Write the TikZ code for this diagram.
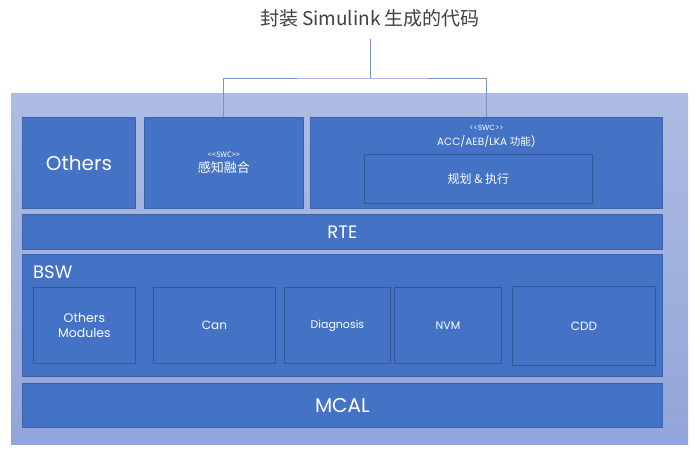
\documentclass[tikz,border=0pt]{standalone}
\usepackage{fontspec}
\setmainfont{Poppins}
\newfontfamily\cjk{Noto Sans CJK SC}
\definecolor{bgtop}{HTML}{AEBCE3}
\definecolor{bgbot}{HTML}{92A5D8}
\definecolor{boxblue}{HTML}{4472C4}
\definecolor{boxline}{HTML}{3A63AD}
\definecolor{subline}{HTML}{33589A}
\definecolor{linkcol}{HTML}{7C93C9}
\definecolor{titlecol}{HTML}{404040}
\tikzset{
	blk/.style={draw=boxline,fill=boxblue,text=white,inner sep=0pt,anchor=north west,line width=0.8pt,align=center},
	sub/.style={blk,draw=subline},
	link/.style={draw=linkcol,line width=1pt},
	lbl/.style={text=white,inner sep=0pt,align=center}
}
\begin{document}
\begin{tikzpicture}[x=1pt,y=-1pt]
				\useasboundingbox (0,0) rectangle (695,451);
				\fill[top color=bgtop,bottom color=bgbot] (11,93) rectangle (688,444);
				\node[text=titlecol,font=\cjk\fontsize{19}{23}\selectfont] (title) at (370,18) {封装 Simulink 生成的代码};
				\node[blk,minimum width=113pt,minimum height=91pt,font=\fontsize{20}{24}\selectfont] (oth) at (22,117) {Others};
				\node[blk,minimum width=159pt,minimum height=91pt,font=\cjk\fontsize{13}{15}\selectfont] (perc) at (144,117) {{\fontsize{7.5}{9}\selectfont {<}{<}SWC{>}{>}}\\感知融合};
				\node[blk,minimum width=352pt,minimum height=91pt] (func) at (310,117) {};
				\node[lbl,anchor=north,font=\fontsize{10.5}{15}\selectfont] (funclbl) at ([yshift=-8pt]func.north) {{\fontsize{7.5}{9}\selectfont {<}{<}SWC{>}{>}}\\ACC/AEB/LKA {\cjk 功能})};
				\node[sub,minimum width=228pt,minimum height=49pt,font=\cjk\fontsize{12}{14}\selectfont] (plan) at (364,154) {规划 \& 执行};
				\node[blk,minimum width=640pt,minimum height=35pt,font=\fontsize{18}{22}\selectfont] (rte) at (22,214) {RTE};
				\node[blk,minimum width=640pt,minimum height=122pt] (bsw) at (22,254) {};
				\node[lbl,anchor=west,font=\fontsize{18}{22}\selectfont] (bswlbl) at (33,272) {BSW};
				\node[sub,minimum width=102pt,minimum height=76pt,font=\fontsize{12.5}{15}\selectfont] (om) at (33,287) {Others\\Modules};
				\node[sub,minimum width=122pt,minimum height=76pt,font=\fontsize{12}{14}\selectfont] (can) at (153,287) {Can};
				\node[sub,minimum width=106pt,minimum height=76pt,font=\fontsize{11}{14}\selectfont] (diag) at (284,287) {Diagnosis};
				\node[sub,minimum width=107pt,minimum height=76pt,font=\fontsize{11}{14}\selectfont] (nvm) at (394,287) {NVM};
				\node[sub,minimum width=143pt,minimum height=79pt,font=\fontsize{12}{14}\selectfont] (cdd) at (512,286) {CDD};
				\node[blk,minimum width=640pt,minimum height=44pt,font=\fontsize{20}{24}\selectfont] (mcal) at (22,383) {MCAL};
				\coordinate (hub) at (370,78);
				\draw[link] (hub) -- ([yshift=-9pt]title.south);
				\draw[link] (perc.north) |- (hub) -| (func.north);
\end{tikzpicture}
\end{document}
